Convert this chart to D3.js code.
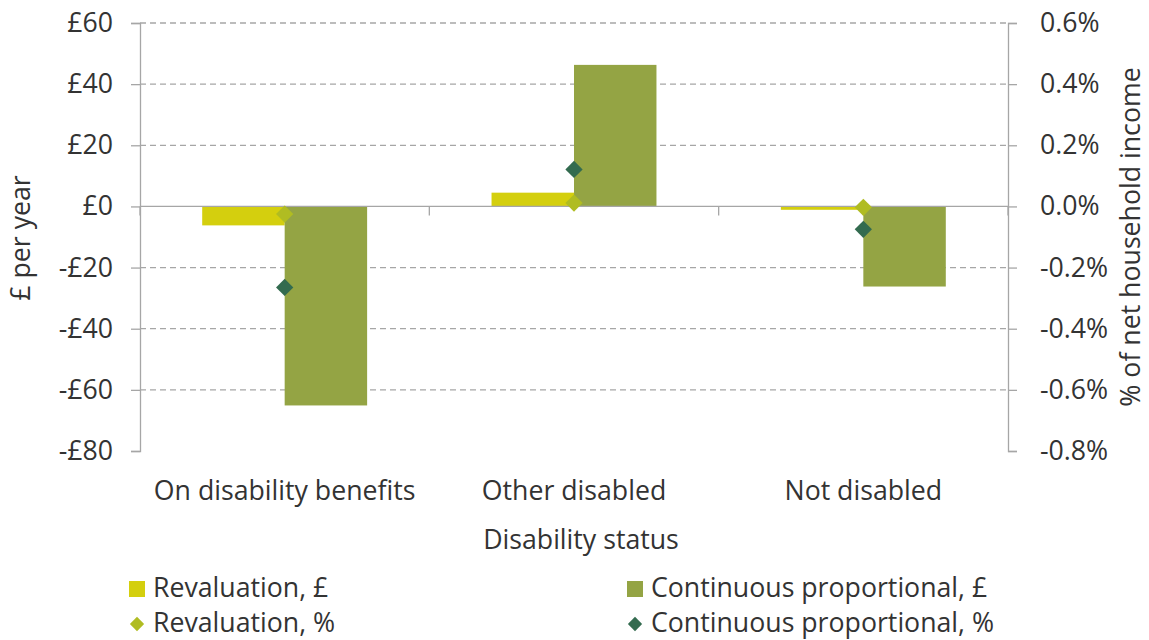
<!DOCTYPE html>
<html>
<head>
<meta charset="utf-8">
<script src="https://cdn.jsdelivr.net/npm/d3@7"></script>
<style>
  body { margin: 0; background: #fff; }
  svg text { font-family: "Open Sans", "Noto Sans", sans-serif; fill: #333; }
</style>
</head>
<body>
<svg id="svg" width="1149" height="640"></svg>
<script>
/* global d3: false */

const categories = ['On disability benefits', 'Other disabled', 'Not disabled'];
const barSeries = ['Revaluation, £', 'Continuous proportional, £'];
const pointSeries = ['Revaluation, %', 'Continuous proportional, %'];

// £ per year
const revaluationGBP = [-6.2, 4.5, -1.1];
const continuousGBP = [-65.1, 46.3, -26.2];
// % of net household income
const revaluationPct = [-0.025, 0.011, -0.003];
const continuousPct = [-0.265, 0.121, -0.075];

const leftTicks = [60, 40, 20, 0, -20, -40, -60, -80];
const rightTicks = [0.6, 0.4, 0.2, 0.0, -0.2, -0.4, -0.6, -0.8];

const barColors = ['#d4cf0e', '#94a444'];
const pointColors = ['#b0bc22', '#336b4f'];

const fontSize = '26.7px';
const svg = d3.select('#svg');
const plotLeft = 140;
const plotRight = 1008;
const plotTop = 23;
const plotBottom = 451;

const x = d3.scaleBand().domain(categories).range([plotLeft, plotRight]);
const bw = x.bandwidth();
const xSub = d3.scaleBand().domain(barSeries).range([bw * 0.215, bw * 0.785]);
const yL = d3.scaleLinear().domain([-80, 60]).range([plotBottom, plotTop]);
const yR = d3.scaleLinear().domain([-0.8, 0.6]).range([plotBottom, plotTop]);

// gridlines (dashed), except zero
svg.append('g')
  .selectAll('line')
  .data(leftTicks.filter(d => d !== 0 && d !== -80))
  .enter()
  .append('line')
  .attr('x1', plotLeft)
  .attr('x2', plotRight)
  .attr('y1', d => yL(d))
  .attr('y2', d => yL(d))
  .attr('stroke', '#a6a6a6')
  .attr('stroke-width', 1.3)
  .attr('stroke-dasharray', '6,4');

// left axis
const leftAxis = svg.append('g')
  .attr('transform', `translate(${plotLeft},0)`)
  .call(d3.axisLeft(yL).tickValues(leftTicks).tickSize(9).tickPadding(18)
    .tickFormat(d => (d < 0 ? `-£${-d}` : `£${d}`)));
leftAxis.selectAll('path, line').attr('stroke', '#a6a6a6').attr('stroke-width', 1.3);
leftAxis.selectAll('text').style('font-size', fontSize).attr('fill', '#333');

// right axis
const rightAxis = svg.append('g')
  .attr('transform', `translate(${plotRight},0)`)
  .call(d3.axisRight(yR).tickValues(rightTicks).tickSize(9).tickPadding(23)
    .tickFormat(d => `${d3.format('.1f')(d === 0 ? 0 : d).replace('\u2212', '-')}%`));
rightAxis.selectAll('path, line').attr('stroke', '#a6a6a6').attr('stroke-width', 1.3);
rightAxis.selectAll('text').style('font-size', fontSize).attr('fill', '#333');

// bars
const barData = [revaluationGBP, continuousGBP];
barSeries.forEach((s, i) => {
  svg.append('g')
    .selectAll('rect')
    .data(categories)
    .enter()
    .append('rect')
    .attr('x', d => x(d) + xSub(s))
    .attr('width', xSub.bandwidth())
    .attr('y', (d, j) => yL(Math.max(0, barData[i][j])))
    .attr('height', (d, j) => Math.abs(yL(barData[i][j]) - yL(0)))
    .attr('fill', barColors[i]);
});

// category axis at zero
const catAxis = svg.append('g')
  .attr('transform', `translate(0,${yL(0)})`);
catAxis.append('line')
  .attr('x1', plotLeft)
  .attr('x2', plotRight)
  .attr('stroke', '#a6a6a6')
  .attr('stroke-width', 1.3);
catAxis.selectAll('.tick')
  .data([plotLeft].concat(categories.map(c => x(c) + bw)))
  .enter()
  .append('line')
  .attr('x1', d => d)
  .attr('x2', d => d)
  .attr('y1', 0)
  .attr('y2', 9)
  .attr('stroke', '#a6a6a6')
  .attr('stroke-width', 1.3);

// diamond markers
const pointData = [revaluationPct, continuousPct];
const diamond = d3.symbol().type(d3.symbolDiamond2).size(190);
pointSeries.forEach((s, i) => {
  svg.append('g')
    .selectAll('path')
    .data(categories)
    .enter()
    .append('path')
    .attr('d', diamond)
    .attr('transform', (d, j) => `translate(${x(d) + bw / 2},${yR(pointData[i][j])})`)
    .attr('fill', pointColors[i]);
});

// category labels
svg.append('g')
  .selectAll('text')
  .data(categories)
  .enter()
  .append('text')
  .attr('x', d => x(d) + bw / 2)
  .attr('y', 500)
  .attr('text-anchor', 'middle')
  .style('font-size', fontSize)
  .text(d => d);

// axis titles
svg.append('text')
  .attr('x', 581)
  .attr('y', 549)
  .attr('text-anchor', 'middle')
  .style('font-size', fontSize)
  .text('Disability status');

svg.append('text')
  .attr('transform', 'translate(30,238) rotate(-90)')
  .attr('text-anchor', 'middle')
  .style('font-size', fontSize)
  .text('£ per year');

svg.append('text')
  .attr('transform', 'translate(1140,237) rotate(-90)')
  .attr('text-anchor', 'middle')
  .style('font-size', fontSize)
  .text('% of net household income');

// legend
const legendItems = [
  { label: barSeries[0], color: barColors[0], kind: 'rect', col: 0, row: 0 },
  { label: barSeries[1], color: barColors[1], kind: 'rect', col: 1, row: 0 },
  { label: pointSeries[0], color: pointColors[0], kind: 'diamond', col: 0, row: 1 },
  { label: pointSeries[1], color: pointColors[1], kind: 'diamond', col: 1, row: 1 },
];
const legendX = [129, 627];
const legendY = [589, 624];
const legend = svg.append('g');
legendItems.forEach((d) => {
  const g = legend.append('g')
    .attr('transform', `translate(${legendX[d.col]},${legendY[d.row]})`);
  if (d.kind === 'rect') {
    g.append('rect')
      .attr('x', 0)
      .attr('y', -8)
      .attr('width', 16)
      .attr('height', 16)
      .attr('fill', d.color);
  } else {
    g.append('path')
      .attr('d', d3.symbol().type(d3.symbolDiamond2).size(130))
      .attr('transform', 'translate(8,0)')
      .attr('fill', d.color);
  }
  g.append('text')
    .attr('x', 24)
    .attr('y', 8)
    .style('font-size', fontSize)
    .text(d.label);
});
</script>
</body>
</html>
